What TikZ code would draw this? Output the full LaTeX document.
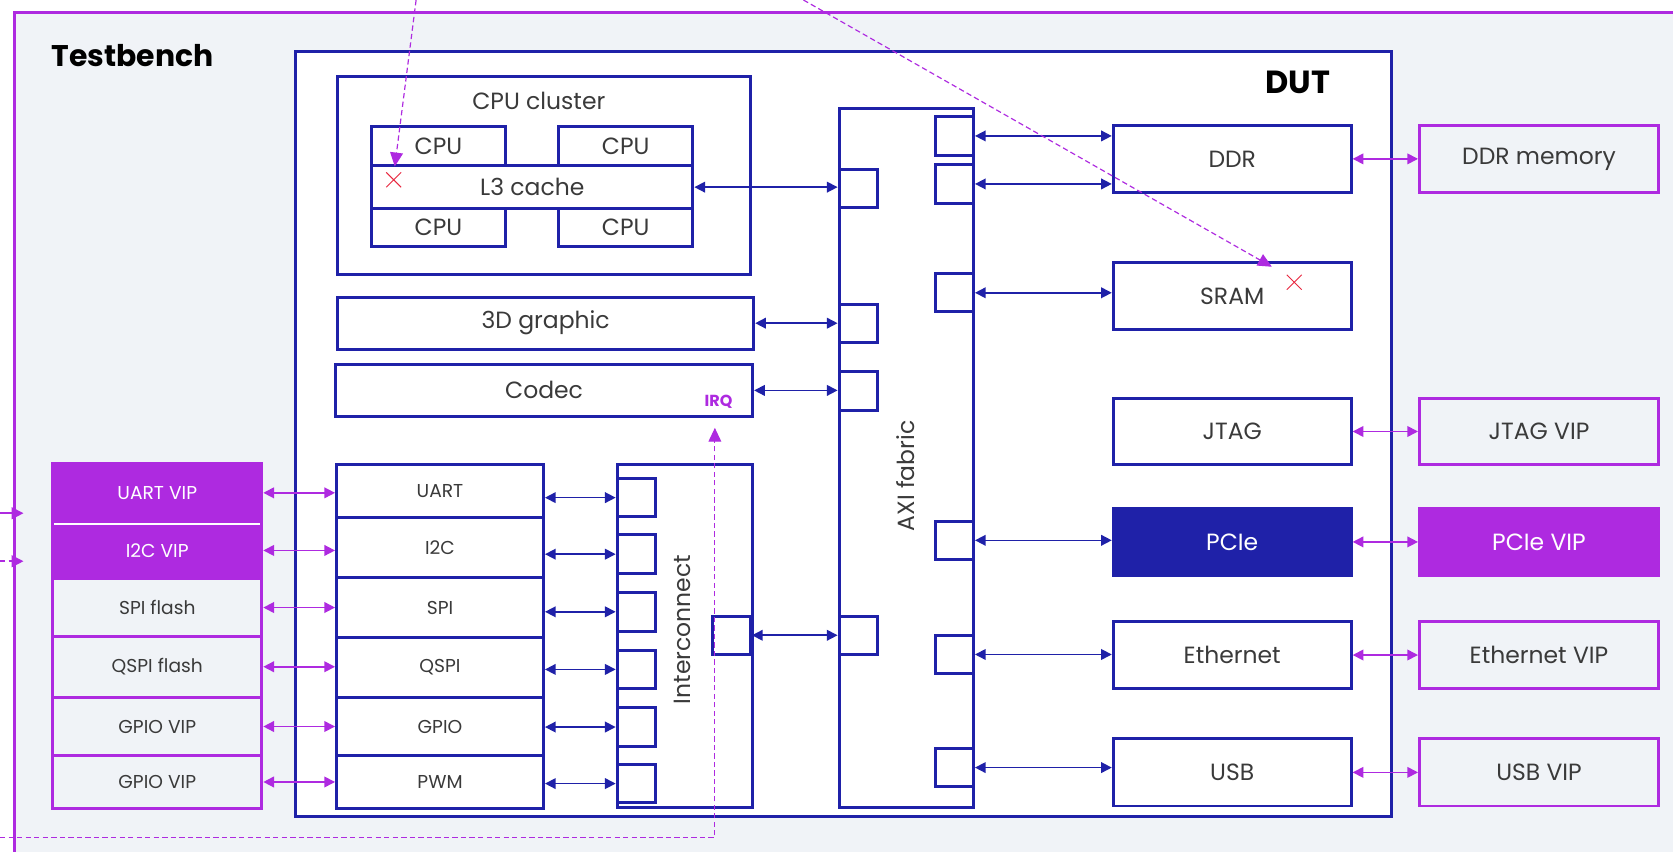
\documentclass[tikz,border=0pt]{standalone}
\usepackage{fontspec}
\setmainfont{Poppins}
\usetikzlibrary{arrows.meta,shapes.misc}
\definecolor{dutblue}{HTML}{1F21A8}
\definecolor{vipc}{HTML}{AE2AE0}
\definecolor{bgc}{HTML}{F0F3F7}
\definecolor{txtc}{HTML}{3A3A3A}
\definecolor{redx}{HTML}{E8273F}
\newcommand\mkbox[7]{\node[#1, anchor=north west, minimum width=#4-#2, minimum height=#5-#3] (#6) at (#2,#3) {#7};}
\begin{document}
\begin{tikzpicture}[x=1pt,y=-1pt,
  font=\fontsize{22}{26}\selectfont, text=txtc,
  blk/.style={draw=dutblue, line width=2.8pt, fill=white, inner sep=0pt},
  blkfill/.style={draw=dutblue, line width=2.8pt, fill=dutblue, text=white, inner sep=0pt},
  vbox/.style={draw=vipc, line width=2.8pt, fill=bgc, inner sep=0pt},
  vfill/.style={draw=vipc, line width=2.8pt, fill=vipc, text=white, inner sep=0pt},
  port/.style={draw=dutblue, line width=2.8pt, fill=white, inner sep=0pt, minimum width=36pt, minimum height=36pt, anchor=north west},
  small/.style={font=\fontsize{17.5}{20}\selectfont},
  tip/.tip={Triangle[length=10pt,width=10pt]},
  barrow/.style={draw=dutblue, line width=1.5pt, tip-tip},
  parrow/.style={draw=vipc, line width=1.5pt, tip-tip},
  inarrow/.style={draw=vipc, line width=1.5pt, -{Triangle[length=11pt,width=11pt]}},
  dasharrow/.style={draw=vipc, line width=1.1pt, dash pattern=on 5pt off 3pt, -{Triangle[length=13pt,width=12pt]}},
  xmark/.style={cross out, draw=redx, line width=0.9pt, minimum size=13pt, inner sep=0pt}
]
\clip (0,0) rectangle (1568,798);
\fill[white] (0,0) rectangle (1568,798);
% testbench
\node[vbox, anchor=north west, minimum width=1700pt, minimum height=900pt] (tb) at (12,10) {};
\node[anchor=base west, font=\fontsize{28}{32}\selectfont\bfseries, text=black] (tbtitle) at (45,62) {Testbench};
% DUT
\mkbox{blk}{276}{47}{1303}{764}{dut}{}
\node[anchor=base east, font=\fontsize{30}{34}\selectfont\bfseries, text=black] (duttitle) at (1250,88) {DUT};
% CPU cluster
\mkbox{blk}{315}{70}{702}{256}{cluster}{}
\node (cputitle) at (505,95) {CPU cluster};
\mkbox{blk}{347}{117}{472}{154}{cpu1}{CPU}
\mkbox{blk}{522}{117}{648}{154}{cpu2}{CPU}
\mkbox{blk}{347}{194}{472}{230}{cpu3}{CPU}
\mkbox{blk}{522}{194}{648}{230}{cpu4}{CPU}
\mkbox{blk}{347}{154}{648}{194}{l3}{L3 cache}
% 3D, codec
\mkbox{blk}{315}{277}{705}{326}{g3d}{3D graphic}
\mkbox{blk}{313}{340}{704}{389}{codec}{Codec}
\node[anchor=base east, font=\fontsize{15}{17}\selectfont\bfseries, text=vipc] (irq) at (690,381) {IRQ};
% AXI fabric
\mkbox{blk}{785}{100}{911}{755}{axi}{}
\node[rotate=90] (axilabel) at (849,446) {AXI fabric};
\node[port] (axl1) at (785,157) {};
\node[port] (axl2) at (785,284) {};
\node[port] (axl3) at (785,347) {};
\node[port] (axl4) at (785,576) {};
\node[port] (axr1) at (875,108) {};
\node[port] (axr2) at (875,153) {};
\node[port] (axr3) at (875,255) {};
\node[port] (axr4) at (875,487) {};
\node[port] (axr5) at (875,594) {};
\node[port] (axr6) at (875,700) {};
% Interconnect
\mkbox{blk}{577}{434}{704}{755}{ic}{}
\node[rotate=90] (iclabel) at (640,590) {Interconnect};
\node[port] (icl1) at (577,447) {};
\node[port] (icl2) at (577,500) {};
\node[port] (icl3) at (577,554) {};
\node[port] (icl4) at (577,608) {};
\node[port] (icl5) at (577,662) {};
\node[port] (icl6) at (577,715) {};
\node[port] (icr) at (666,576) {};
% peripherals
\mkbox{blk,small}{314}{434}{508}{484}{uart}{UART}
\mkbox{blk,small}{314}{484}{508}{540}{i2c}{I2C}
\mkbox{blk,small}{314}{540}{508}{596}{spi}{SPI}
\mkbox{blk,small}{314}{596}{508}{652}{qspi}{QSPI}
\mkbox{blk,small}{314}{652}{508}{707}{gpio}{GPIO}
\mkbox{blk,small}{314}{707}{508}{756}{pwm}{PWM}
% left VIPs
\mkbox{vfill,small}{48}{433}{244}{488}{uartvip}{UART VIP}
\mkbox{vfill,small}{48}{488}{244}{541}{i2cvip}{I2C VIP}
\draw[white, line width=2pt] ([xshift=3pt]uartvip.south west) -- ([xshift=-3pt]uartvip.south east);
\mkbox{vbox,small}{48}{541}{244}{595}{spivip}{SPI flash}
\mkbox{vbox,small}{48}{595}{244}{652}{qspivip}{QSPI flash}
\mkbox{vbox,small}{48}{652}{244}{707}{gpiovip}{GPIO VIP}
\mkbox{vbox,small}{48}{707}{244}{756}{gpiovipb}{GPIO VIP}
% right blocks
\mkbox{blk}{1042}{116}{1265}{179}{ddr}{DDR}
\mkbox{blk}{1042}{245}{1265}{307}{sram}{SRAM}
\mkbox{blk}{1042}{372}{1265}{434}{jtag}{JTAG}
\mkbox{blkfill}{1042}{475}{1265}{538}{pcie}{PCIe}
\mkbox{blk}{1042}{581}{1265}{644}{eth}{Ethernet}
\mkbox{blk}{1042}{691}{1265}{754}{usb}{USB}
% right VIPs
\mkbox{vbox}{1329}{116}{1553}{179}{ddrmem}{DDR memory}
\mkbox{vbox}{1329}{372}{1553}{434}{jtagvip}{JTAG VIP}
\mkbox{vfill}{1329}{475}{1553}{538}{pcievip}{PCIe VIP}
\mkbox{vbox}{1329}{581}{1553}{644}{ethvip}{Ethernet VIP}
\mkbox{vbox}{1329}{691}{1553}{754}{usbvip}{USB VIP}
% blue connectors
\draw[barrow] (l3.east) -- (l3.east -| axl1.west);
\draw[barrow] (g3d.east) -- (g3d.east -| axl2.west);
\draw[barrow] (codec.east) -- (codec.east -| axl3.west);
\draw[barrow] (icr.east) -- (icr.east -| axl4.west);
\draw[barrow] (axr1.east) -- (axr1.east -| ddr.west);
\draw[barrow] (axr2.east) -- (axr2.east -| ddr.west);
\draw[barrow] (axr3.east) -- (axr3.east -| sram.west);
\draw[barrow] (axr4.east) -- (axr4.east -| pcie.west);
\draw[barrow] (axr5.east) -- (axr5.east -| eth.west);
\draw[barrow] (axr6.east) -- (axr6.east -| usb.west);
\draw[barrow] (icl1.west -| uart.east) -- (icl1.west);
\draw[barrow] (icl2.west -| i2c.east) -- (icl2.west);
\draw[barrow] (icl3.west -| spi.east) -- (icl3.west);
\draw[barrow] (icl4.west -| qspi.east) -- (icl4.west);
\draw[barrow] (icl5.west -| gpio.east) -- (icl5.west);
\draw[barrow] (icl6.west -| pwm.east) -- (icl6.west);
% purple connectors
\draw[parrow] (uartvip.east) -- (uartvip.east -| uart.west);
\draw[parrow] (i2cvip.east) -- (i2cvip.east -| i2c.west);
\draw[parrow] (spivip.east) -- (spivip.east -| spi.west);
\draw[parrow] (qspivip.east) -- (qspivip.east -| qspi.west);
\draw[parrow] (gpiovip.east) -- (gpiovip.east -| gpio.west);
\draw[parrow] (gpiovipb.east) -- (gpiovipb.east -| pwm.west);
\draw[parrow] (ddr.east) -- (ddrmem.west);
\draw[parrow] (jtag.east) -- (jtagvip.west);
\draw[parrow] (pcie.east) -- (pcievip.west);
\draw[parrow] (eth.east) -- (ethvip.west);
\draw[parrow] (usb.east) -- (usbvip.west);
% incoming arrows at left
\coordinate (inA) at (0,481);
\coordinate (inAe) at (22,481);
\coordinate (inB) at (0,526);
\coordinate (inBe) at (22,526);
\draw[inarrow] (inA) -- (inAe);
\draw[inarrow, dash pattern=on 5pt off 3pt] (inB) -- (inBe);
% red marks
\node[xmark] (xa) at (369,168.5) {};
\node[xmark] (xb) at (1213,264.5) {};
% dashed arrows
\coordinate (srcA) at (390,0);
\coordinate (dstA) at (370,156);
\draw[dasharrow] (srcA) -- (dstA);
\coordinate (srcB) at (753,0);
\coordinate (dstB) at (1192,250);
\draw[dasharrow] (srcB) -- (dstB);
\coordinate (irqS) at (0,785);
\coordinate (irqK) at (670,785);
\coordinate (irqE) at (670,401);
\draw[dasharrow] (irqS) -- (irqK) -- (irqE);
\end{tikzpicture}
\end{document}
